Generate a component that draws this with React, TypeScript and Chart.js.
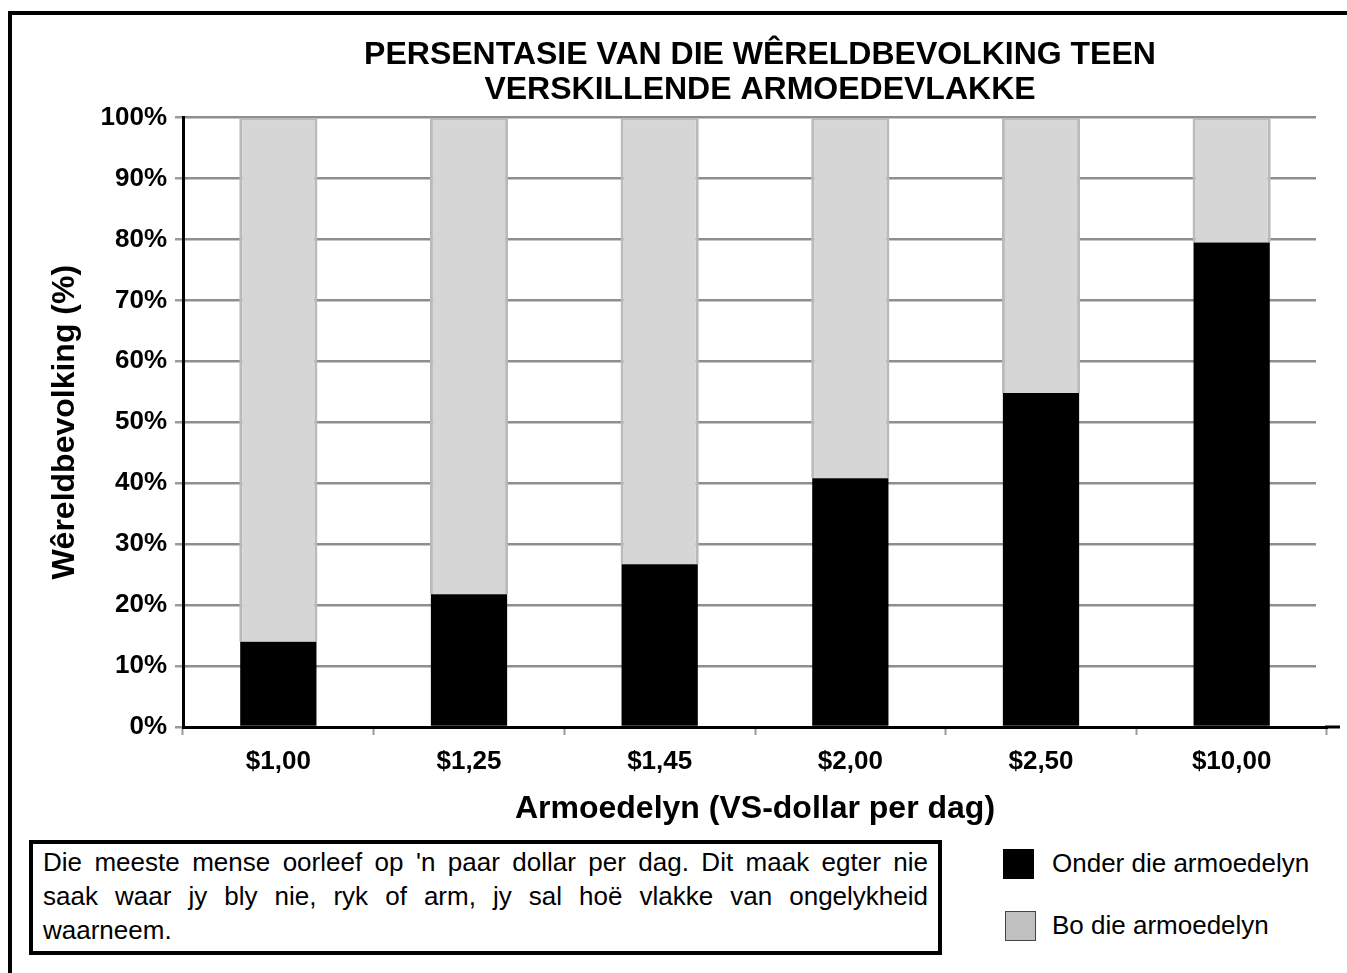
import React, { useEffect, useRef } from "react";
import { Chart, registerables } from "chart.js";

Chart.register(...registerables);

const TITLE_LINES = ["PERSENTASIE VAN DIE WÊRELDBEVOLKING TEEN", "VERSKILLENDE ARMOEDEVLAKKE"];
const CATEGORIES = ["$1,00", "$1,25", "$1,45", "$2,00", "$2,50", "$10,00"];
const BELOW = [14.0, 21.8, 26.7, 40.8, 54.8, 79.5];
const ABOVE = [86.0, 78.2, 73.3, 59.2, 45.2, 20.5];
const SERIES_NAMES = ["Onder die armoedelyn", "Bo die armoedelyn"];
const Y_TITLE = "Wêreldbevolking (%)";
const X_TITLE = "Armoedelyn (VS-dollar per dag)";
const NOTE_LINES = [
  "Die meeste mense oorleef op 'n paar dollar per dag. Dit maak egter nie",
  "saak waar jy bly nie, ryk of arm, jy sal hoë vlakke van ongelykheid",
  "waarneem.",
];

const FONT = '"Liberation Sans", Arial, Helvetica, sans-serif';

const titlePlugin = {
  id: "customTitle",
  beforeDatasetsDraw(chart: any) {
    const { ctx, chartArea } = chart;
    ctx.save();
    ctx.fillStyle = "#ffffff";
    ctx.fillRect(chartArea.right - 11, chartArea.top - 3, 13, chartArea.bottom - chartArea.top + 1);
    ctx.restore();
  },
  afterDraw(chart: any) {
    const { ctx, chartArea } = chart;
    ctx.save();
    ctx.font = `bold 32px ${FONT}`;
    ctx.fillStyle = "#000";
    ctx.textAlign = "center";
    ctx.textBaseline = "middle";
    const cx = (chartArea.left + chartArea.right) / 2 + 5;
    TITLE_LINES.forEach((t, i) => ctx.fillText(t, cx, 40 + i * 35));
    ctx.strokeStyle = "#000";
    ctx.lineWidth = 3;
    ctx.beginPath();
    ctx.moveTo(chartArea.right - 2, chartArea.bottom);
    ctx.lineTo(chartArea.right + 13, chartArea.bottom);
    ctx.stroke();
    ctx.restore();
  },
};

export default function App() {
  const canvasRef = useRef<HTMLCanvasElement | null>(null);

  useEffect(() => {
    if (!canvasRef.current) return;
    const chart = new Chart(canvasRef.current, {
      type: "bar",
      data: {
        labels: CATEGORIES,
        datasets: [
          {
            label: SERIES_NAMES[0],
            data: BELOW,
            backgroundColor: "#000000",
            borderWidth: 0,
            barPercentage: 0.4,
            categoryPercentage: 1,
          },
          {
            label: SERIES_NAMES[1],
            data: ABOVE,
            backgroundColor: "#d6d6d6",
            borderColor: "#bababa",
            borderWidth: 3,
            barPercentage: 0.41,
            categoryPercentage: 1,
          },
        ],
      },
      options: {
        animation: false,
        responsive: false,
        maintainAspectRatio: false,
        layout: { padding: { top: 102.5, right: 15, left: 0, bottom: 0 } },
        plugins: {
          legend: { display: false },
          tooltip: { enabled: false },
          title: { display: false },
        },
        scales: {
          x: {
            stacked: true,
            afterFit: (s: any) => {
              s.height = 108;
            },
            grid: {
              display: true,
              drawOnChartArea: false,
              drawTicks: true,
              tickLength: 8,
              tickColor: "#9a9a9a",
              tickWidth: 2,
              offset: true,
            },
            border: { display: true, color: "#000", width: 3 },
            ticks: {
              color: "#000",
              padding: 11,
              font: { family: FONT, size: 26, weight: "bold" },
              maxRotation: 0,
            },
            title: {
              display: true,
              text: X_TITLE,
              color: "#000",
              font: { family: FONT, size: 32, weight: "bold" },
              padding: { top: 0, bottom: 7 },
            },
          },
          y: {
            stacked: true,
            min: 0,
            max: 100,
            afterFit: (s: any) => {
              s.width = 171;
            },
            grid: {
              color: "#8e8e8e",
              lineWidth: 2.5,
              tickLength: 8,
              tickColor: "#9c9c9c",
            },
            border: { display: true, color: "#000", width: 3 },
            ticks: {
              stepSize: 10,
              color: "#000",
              padding: 8,
              font: { family: FONT, size: 26, weight: "bold" },
              callback: (v: any) => `${v}%`,
            },
            title: {
              display: true,
              text: Y_TITLE,
              color: "#000",
              font: { family: FONT, size: 32, weight: "bold" },
              padding: { top: 34, bottom: 0 },
            },
          },
        },
      },
      plugins: [titlePlugin],
    } as any);
    return () => chart.destroy();
  }, []);

  return (
    <div
      style={{
        position: "fixed",
        left: 8,
        top: 11,
        width: 1345,
        height: 970,
        border: "4px solid #000",
        boxSizing: "border-box",
        background: "#fff",
        fontFamily: FONT,
      }}
    >
      <canvas
        ref={canvasRef}
        width={1330}
        height={820}
        style={{ position: "absolute", left: 0, top: 0, width: 1330, height: 820 }}
      />
      <div
        style={{
          position: "absolute",
          left: 17,
          top: 825,
          width: 913,
          height: 115,
          border: "4px solid #000",
          boxSizing: "border-box",
          padding: "1px 10px 0 10px",
          fontSize: 26,
          lineHeight: "34px",
          color: "#000",
        }}
      >
        {NOTE_LINES.map((l, i) => (
          <div
            key={i}
            style={{
              textAlign: i < NOTE_LINES.length - 1 ? "justify" : "left",
              textAlignLast: i < NOTE_LINES.length - 1 ? "justify" : "left",
              whiteSpace: "nowrap",
            }}
          >
            {l}
          </div>
        ))}
      </div>
      <div style={{ position: "absolute", left: 991, top: 834, width: 31, height: 30, background: "#000" }} />
      <div
        style={{
          position: "absolute",
          left: 993,
          top: 896,
          width: 31,
          height: 30,
          background: "#c0c0c0",
          border: "1px solid #444",
          boxSizing: "border-box",
        }}
      />
      <div style={{ position: "absolute", left: 1040, top: 833, fontSize: 26, lineHeight: "30px", color: "#000" }}>
        {SERIES_NAMES[0]}
      </div>
      <div style={{ position: "absolute", left: 1040, top: 895, fontSize: 26, lineHeight: "30px", color: "#000" }}>
        {SERIES_NAMES[1]}
      </div>
    </div>
  );
}
